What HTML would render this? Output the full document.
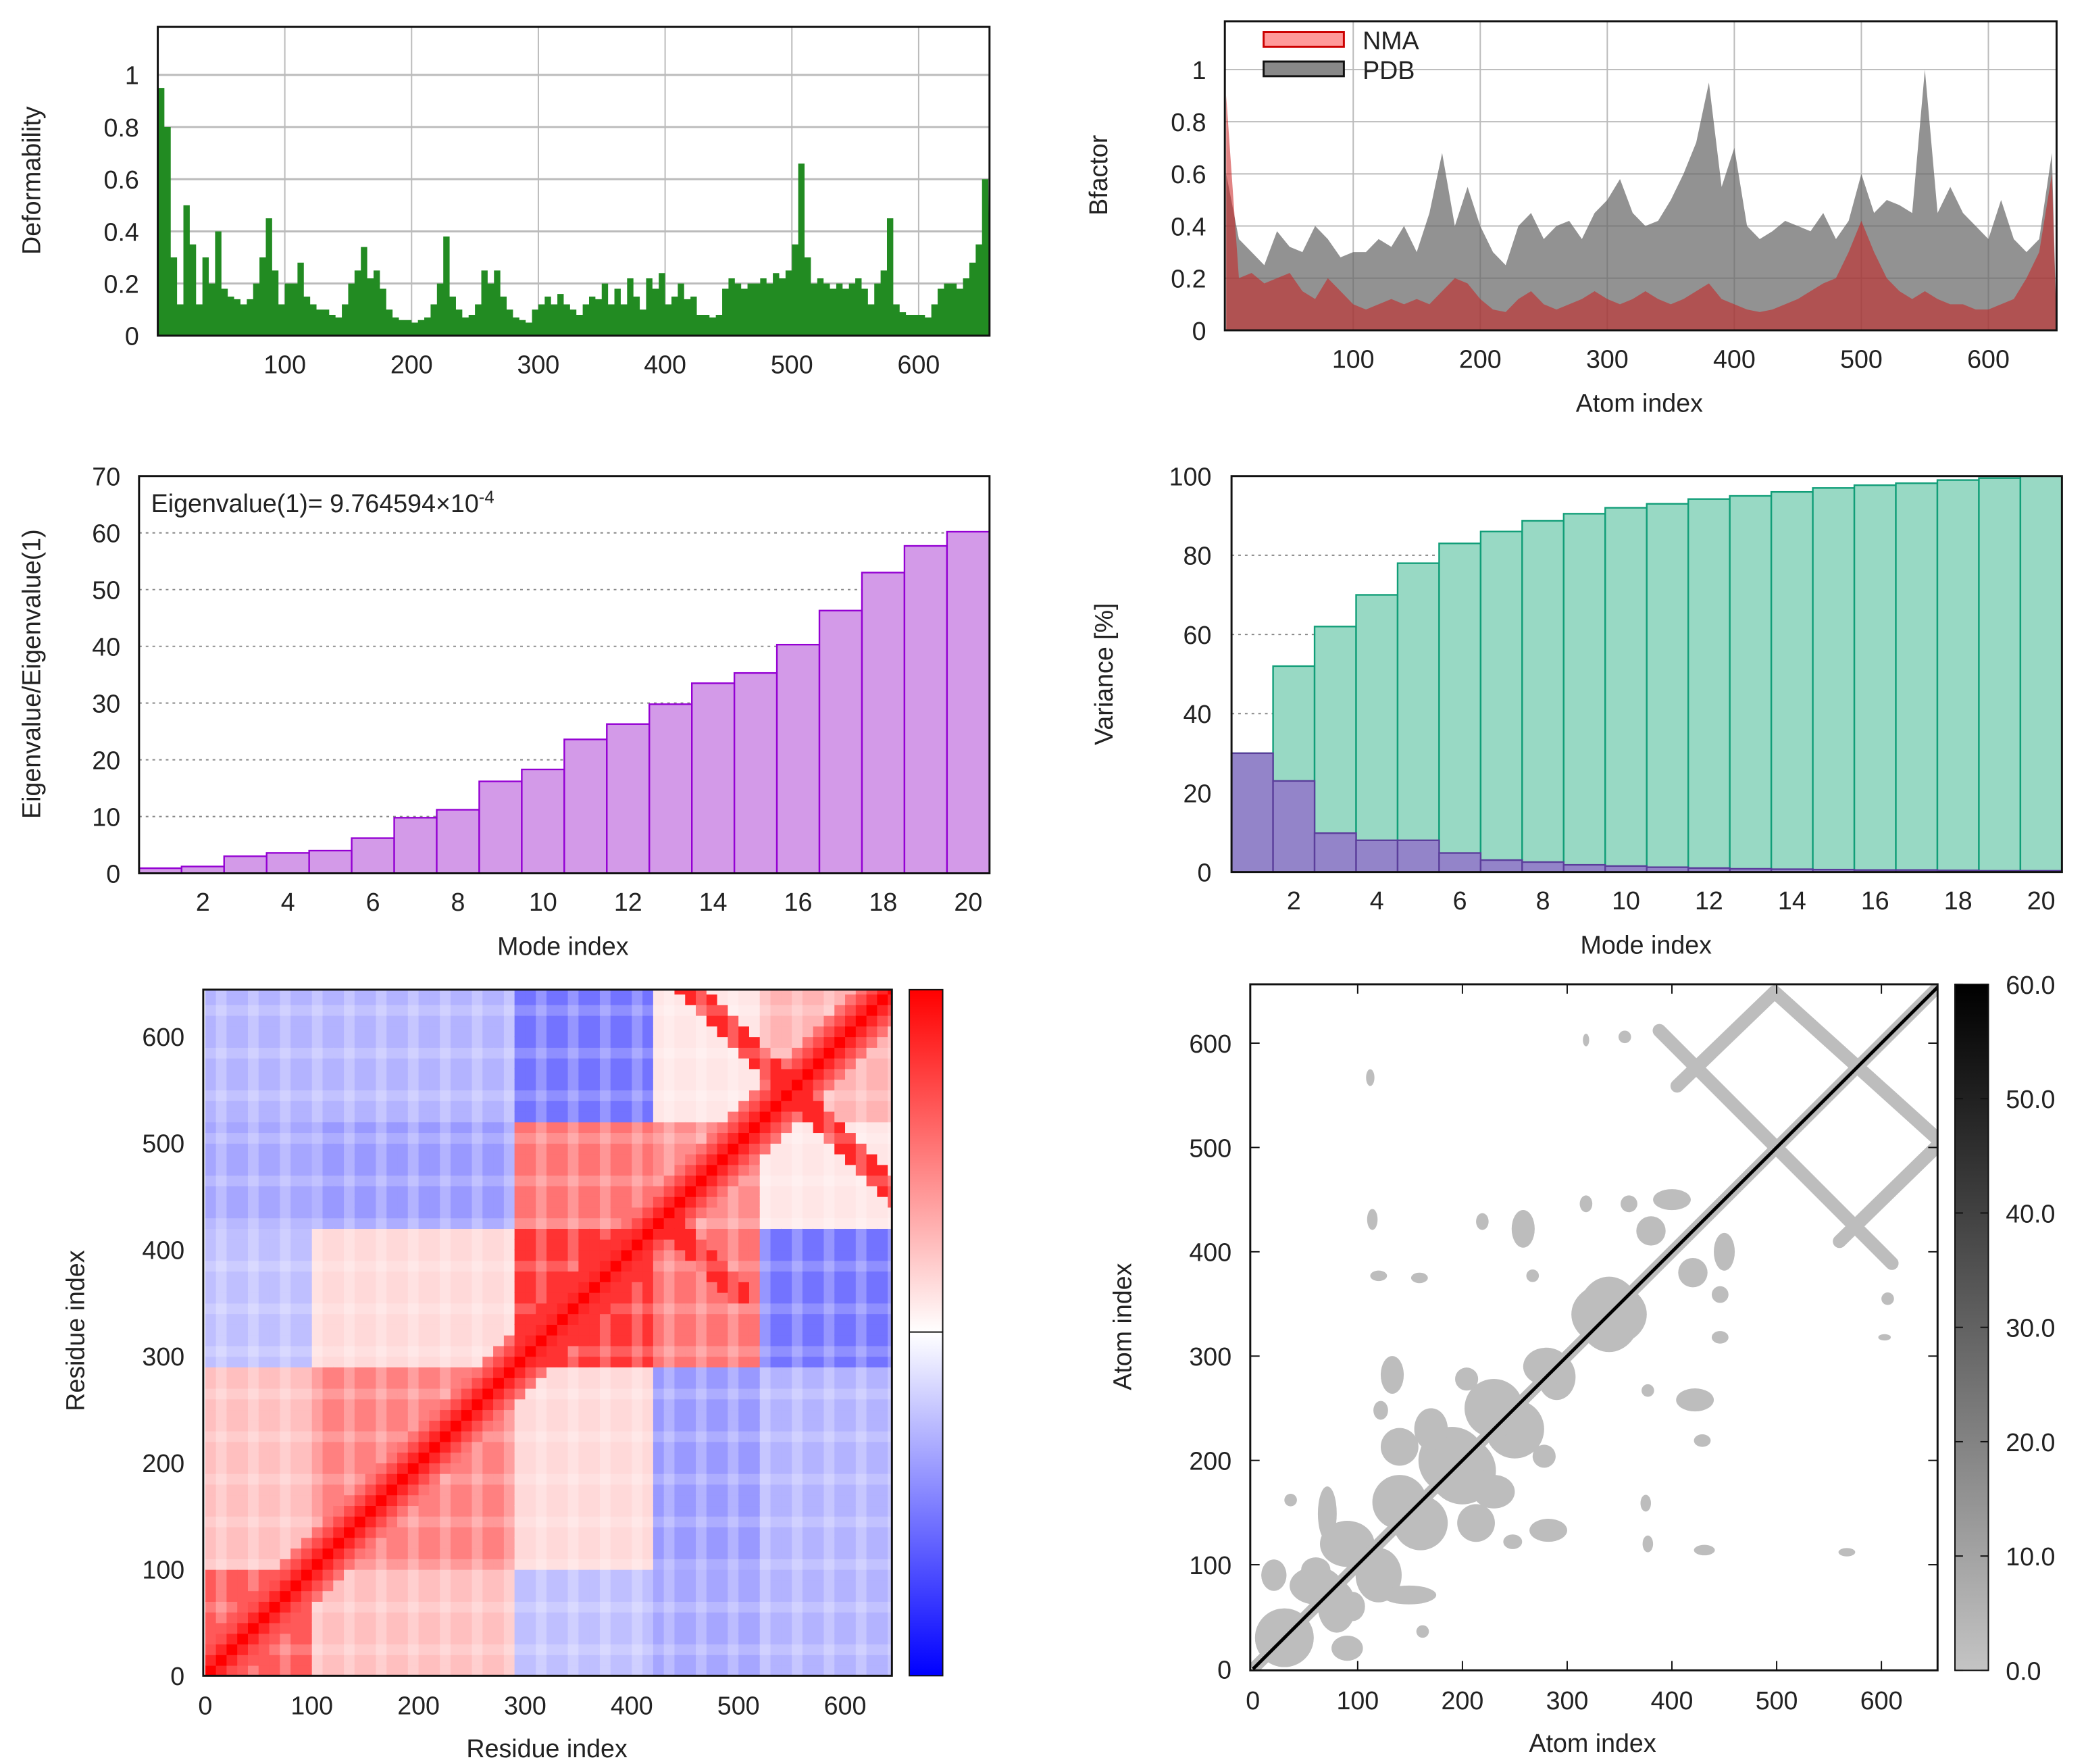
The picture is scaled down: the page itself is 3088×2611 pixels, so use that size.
<!DOCTYPE html>
<html><head><meta charset="utf-8"><style>
html,body{margin:0;padding:0;background:#fff}
svg{display:block}
text{font-family:"Liberation Sans","DejaVu Sans",sans-serif;fill:#222}
</style></head><body>
<svg id="s" width="3088" height="2611" viewBox="0 0 1560 1319" preserveAspectRatio="none" xmlns="http://www.w3.org/2000/svg"></svg>
<script>
// ---------- DATA ----------
const deformStart = 0, deformStep = 5;
const deformValues = [0.95,0.8,0.3,0.12,0.5,0.35,0.12,0.3,0.2,0.4,0.18,0.15,0.14,0.12,0.14,0.2,0.3,0.45,0.25,0.12,
0.2,0.2,0.28,0.15,0.12,0.1,0.1,0.08,0.07,0.12,0.2,0.25,0.34,0.22,0.25,0.18,0.1,0.07,0.06,0.06,
0.05,0.06,0.07,0.12,0.2,0.38,0.15,0.1,0.07,0.08,0.12,0.25,0.2,0.25,0.15,0.1,0.07,0.06,0.05,0.1,
0.12,0.15,0.12,0.16,0.12,0.1,0.08,0.12,0.15,0.14,0.2,0.12,0.18,0.12,0.22,0.15,0.1,0.22,0.18,0.24,
0.12,0.15,0.2,0.14,0.15,0.08,0.08,0.07,0.08,0.18,0.22,0.2,0.18,0.2,0.2,0.22,0.2,0.24,0.22,0.25,
0.35,0.66,0.3,0.2,0.22,0.2,0.18,0.2,0.18,0.2,0.22,0.18,0.12,0.2,0.25,0.45,0.12,0.09,0.08,0.08,
0.08,0.07,0.12,0.18,0.2,0.2,0.18,0.22,0.28,0.35,0.6];
const bfStep = 10;
const bfPDB = [0.6,0.35,0.3,0.25,0.38,0.32,0.3,0.4,0.35,0.28,0.3,0.3,0.35,0.32,0.4,0.3,0.45,0.68,0.4,0.55,0.4,0.3,0.25,0.4,0.45,0.35,0.4,0.42,0.35,0.45,0.5,0.58,0.45,0.4,0.42,0.5,0.6,0.72,0.95,0.55,0.7,0.4,0.35,0.38,0.42,0.4,0.38,0.45,0.35,0.42,0.6,0.45,0.5,0.48,0.45,1.0,0.45,0.55,0.45,0.4,0.35,0.5,0.35,0.3,0.35,0.68];
const bfNMA = [0.9,0.2,0.22,0.18,0.2,0.22,0.15,0.12,0.2,0.15,0.1,0.08,0.1,0.12,0.1,0.12,0.1,0.15,0.2,0.18,0.12,0.08,0.07,0.12,0.15,0.1,0.08,0.1,0.12,0.15,0.12,0.1,0.12,0.15,0.12,0.1,0.12,0.15,0.18,0.12,0.1,0.08,0.07,0.08,0.1,0.12,0.15,0.18,0.2,0.3,0.42,0.3,0.2,0.15,0.12,0.15,0.12,0.1,0.1,0.08,0.08,0.1,0.12,0.2,0.3,0.6];
const modes = [1,2,3,4,5,6,7,8,9,10,11,12,13,14,15,16,17,18,19,20];
const eigRatio = [0.9,1.2,3,3.6,4,6.2,9.8,11.2,16.2,18.3,23.6,26.3,29.8,33.5,35.3,40.3,46.3,53,57.7,60.2];
const varCum = [30,52,62,70,78,83,86,88.7,90.5,92,93,94.2,95,96,97,97.7,98.2,99,99.5,100];
const varInd = [30,23,9.8,8,8,4.8,3,2.5,1.8,1.5,1.2,1,0.8,0.7,0.6,0.5,0.5,0.4,0.3,0.3];
const domainBounds = [0,100,290,420,520,650];
const domainCorr = [[0.65,0.25,-0.25,-0.35,-0.3],[0.25,0.5,0.15,-0.4,-0.3],[-0.25,0.15,0.8,0.55,-0.55],[-0.35,-0.4,0.55,0.45,0.1],[-0.3,-0.3,-0.55,0.1,0.3]];
const crossCenters = [[550,550,110],[470,390,40]];
const contactBlobs = [[30,30,28,28],[80,60,18,25],[60,95,14,12],[90,20,15,12],[20,90,12,14],[120,90,22,26],[160,140,26,26],[200,190,32,32],[250,230,28,28],[290,280,18,22],[340,340,36,30],[230,170,20,16],[282,133,18,11],[248,122,9,7],[149,71,26,9],[162,36,6,6],[278,204,11,11],[213,140,18,18],[446,359,8,8],[446,318,8,6],[606,355,6,6],[603,318,6,3],[422,258,18,11],[377,267,6,6],[429,219,8,6],[375,159,5,8],[377,120,5,8],[431,114,10,5],[567,112,8,4],[420,380,14,14],[450,400,10,18]];
const contactBands = [[388,612,610,389],[405,559,498,649],[498,649,657,505],[657,505,560,410]];

// ---------- helpers ----------
const S=document.getElementById('s');const NS='http://www.w3.org/2000/svg';
function mk(tag,attrs,parent){const e=document.createElementNS(NS,tag);for(const k in attrs)e.setAttribute(k,attrs[k]);(parent||S).appendChild(e);return e;}
function txt(x,y,s,anchor,size,parent,rot){const t=mk('text',{x:x,y:y,'text-anchor':anchor||'middle','font-size':size||19},parent);if(rot)t.setAttribute('transform','rotate(-90 '+x+' '+y+')');t.textContent=s;return t;}
function lin(d0,d1,r0,r1){return v=>r0+(v-d0)*(r1-r0)/(d1-d0);}

// ===== Panel 1: Deformability =====
(function(){
const g=mk('g',{});
const L=118,R=740,T=20,B=251;const x=lin(0,100,118.2,213),y=lin(0,1,251,56);
[100,200,300,400,500,600].forEach(v=>mk('line',{x1:x(v),x2:x(v),y1:T,y2:B,stroke:'#bbb','stroke-width':1},g));
[0.2,0.4,0.6,0.8,1].forEach(v=>mk('line',{x1:L,x2:R,y1:y(v),y2:y(v),stroke:'#bbb','stroke-width':1.5},g));
let d='M'+x(0)+','+B;deformValues.forEach((v,i)=>{const a=x(deformStart+i*deformStep),b=Math.min(R,x(deformStart+(i+1)*deformStep));d+=' L'+a+','+y(v)+' L'+b+','+y(v);});d+=' L'+R+','+B+'Z';
const p=mk('path',{d:d,fill:'#228b22'},g);
mk('rect',{x:L,y:T,width:R-L,height:B-T,fill:'none',stroke:'#111','stroke-width':1.5},g);
[[0,'0'],[0.2,'0.2'],[0.4,'0.4'],[0.6,'0.6'],[0.8,'0.8'],[1,'1']].forEach(([v,s])=>txt(104,y(v)+7,s,'end',19,g));
[100,200,300,400,500,600].forEach(v=>txt(x(v),279,String(v),'middle',19,g));
const t=txt(30,135,'Deformability','middle',19,g,true);
})();

// ===== Panel 2: Bfactor =====
(function(){
const g=mk('g',{});
const L=916,R=1538,T=16,B=247;const x=lin(0,100,917,1012),y=lin(0,1,247,52);
[100,200,300,400,500,600].forEach(v=>mk('line',{x1:x(v),x2:x(v),y1:T,y2:B,stroke:'#bbb','stroke-width':1},g));
[0.2,0.4,0.6,0.8,1].forEach(v=>mk('line',{x1:L,x2:R,y1:y(v),y2:y(v),stroke:'#bbb','stroke-width':1},g));
function area(arr,fill,name){let d='M'+x(0)+','+B;arr.forEach((v,i)=>{d+=' L'+Math.min(R,x(i*bfStep))+','+y(v);});d+=' L'+R+','+B+'Z';const p=mk('path',{d:d,fill:fill},g);}
area(bfPDB,'rgba(100,100,100,0.7)','pdb-area');
area(bfNMA,'rgba(200,30,30,0.55)','nma-area');
mk('rect',{x:L,y:T,width:R-L,height:B-T,fill:'none',stroke:'#111','stroke-width':1.5},g);
[[0,'0'],[0.2,'0.2'],[0.4,'0.4'],[0.6,'0.6'],[0.8,'0.8'],[1,'1']].forEach(([v,s])=>txt(902,y(v)+7,s,'end',19,g));
[100,200,300,400,500,600].forEach(v=>txt(x(v),275,String(v),'middle',19,g));
txt(1226,308,'Atom index','middle',19,g);
txt(828,131,'Bfactor','middle',19,g,true);
const l1=mk('rect',{x:945,y:24,width:60,height:11,fill:'#ff9a9a',stroke:'#c00','stroke-width':1.5},g);
txt(1019,37,'NMA','start',19,g);
const l2=mk('rect',{x:945,y:46,width:60,height:11,fill:'#888',stroke:'#111','stroke-width':1.5},g);
txt(1019,59,'PDB','start',19,g);
})();

// ===== Panel 3: Eigenvalue ratio =====
(function(){
const g=mk('g',{});
const L=104,R=740,T=356,B=653;const y=lin(0,70,653,356);const bw=(R-L)/20;const x=m=>L+(m-1)*bw;
[10,20,30,40,50,60].forEach(v=>mk('line',{x1:L,x2:R,y1:y(v),y2:y(v),stroke:'#888','stroke-width':1,'stroke-dasharray':'2,3'},g));
modes.forEach((m,i)=>{const r=mk('rect',{x:x(m),y:y(eigRatio[i]),width:bw,height:B-y(eigRatio[i]),fill:'#d39ae8',stroke:'#9400d3','stroke-width':1.2},g);});
mk('rect',{x:L,y:T,width:R-L,height:B-T,fill:'none',stroke:'#111','stroke-width':1.5},g);
[0,10,20,30,40,50,60,70].forEach(v=>txt(90,y(v)+7,String(v),'end',19,g));
[2,4,6,8,10,12,14,16,18,20].forEach(m=>txt(x(m)+bw/2,681,String(m),'middle',19,g));
txt(421,714,'Mode index','middle',19,g);
txt(30,504,'Eigenvalue/Eigenvalue(1)','middle',19,g,true);
const t=mk('text',{x:113,y:383,'font-size':19,'text-anchor':'start'},g);t.innerHTML='Eigenvalue(1)= 9.764594×10<tspan dy="-7" font-size="13">-4</tspan>';
})();

// ===== Panel 4: Variance =====
(function(){
const g=mk('g',{});
const L=921,R=1542,T=356,B=652;const y=lin(0,100,652,356);const bw=(R-L)/20;const x=m=>L+(m-1)*bw;
[20,40,60,80].forEach(v=>mk('line',{x1:L,x2:R,y1:y(v),y2:y(v),stroke:'#888','stroke-width':1,'stroke-dasharray':'2,3'},g));
modes.forEach((m,i)=>{const r=mk('rect',{x:x(m),y:y(varCum[i]),width:bw,height:B-y(varCum[i]),fill:'#98d9c4',stroke:'#119e78','stroke-width':1.2},g);});
modes.forEach((m,i)=>{const r=mk('rect',{x:x(m),y:y(varInd[i]),width:bw,height:B-y(varInd[i]),fill:'#9384c9',stroke:'#5b3e9b','stroke-width':1.2},g);});
mk('rect',{x:L,y:T,width:R-L,height:B-T,fill:'none',stroke:'#111','stroke-width':1.5},g);
[0,20,40,60,80,100].forEach(v=>txt(906,y(v)+7,String(v),'end',19,g));
[2,4,6,8,10,12,14,16,18,20].forEach(m=>txt(x(m)+bw/2,680,String(m),'middle',19,g));
txt(1231,713,'Mode index','middle',19,g);
txt(832,504,'Variance [%]','middle',19,g,true);
})();

// ===== Panel 5: Correlation heatmap =====
(function(){
const g=mk('g',{});
const L=152,R=667,T=740,B=1253;const x=lin(0,600,153.5,632),y=lin(0,600,1253,775);
const bin=10,n=65;
function dom(r){for(let k=0;k<domainBounds.length-1;k++)if(r<domainBounds[k+1])return k;return domainBounds.length-2;}
function col(v){v=Math.max(-1,Math.min(1,v));if(v>=0){const c=Math.round(255*(1-v));return 'rgb(255,'+c+','+c+')';}const c=Math.round(255*(1+v));return 'rgb('+c+','+c+',255)';}
const clip=mk('clipPath',{id:'hc'},g);mk('rect',{x:L,y:T,width:R-L,height:B-T},clip);
const cg=mk('g',{'clip-path':'url(#hc)'},g);
for(let i=0;i<n;i++)for(let j=0;j<n;j++){const ri=i*bin+5,rj=j*bin+5;let v=domainCorr[dom(ri)][dom(rj)];const dd=Math.abs(i-j);if(dd<=3)v=Math.max(v,1-dd*0.15);
crossCenters.forEach(c=>{if(Math.abs(ri-c[0])<=c[2]&&Math.abs(rj-c[1])<=c[2]&&Math.abs((ri-c[0])+(rj-c[1]))<=12)v=Math.max(v,0.85);});
if((i%3)===1&&dd>3)v*=0.75;
if((j%4)===2&&dd>3)v*=0.8;
mk('rect',{x:x(i*bin),y:y((j+1)*bin),width:x(bin)-x(0)+0.5,height:y(0)-y(bin)+0.5,fill:col(v)},cg);}
mk('rect',{x:L,y:T,width:R-L,height:B-T,fill:'none',stroke:'#111','stroke-width':1.5},g);
[0,100,200,300,400,500,600].forEach(v=>{txt(138,y(v)+7,String(v),'end',19,g);txt(x(v),1282,String(v),'middle',19,g);});
txt(409,1314,'Residue index','middle',19,g);
txt(63,995,'Residue index','middle',19,g,true);
const defs=mk('defs',{},g);const lg=mk('linearGradient',{id:'rb',x1:0,y1:0,x2:0,y2:1},defs);
mk('stop',{offset:'0',  'stop-color':'#ff0000'},lg);mk('stop',{offset:'0.5','stop-color':'#ffffff'},lg);mk('stop',{offset:'1','stop-color':'#0000ff'},lg);
const cb=mk('rect',{x:680,y:740,width:25,height:513,fill:'url(#rb)',stroke:'#111','stroke-width':1},g);
mk('line',{x1:680,x2:705,y1:996,y2:996,stroke:'#111','stroke-width':1},g);
})();

// ===== Panel 6: Contact map =====
(function(){
const g=mk('g',{});
const L=935,R=1449,T=736,B=1249;const x=lin(0,600,937,1407),y=lin(0,600,1248,780);const k=(x(100)-x(0))/100;
const clip=mk('clipPath',{id:'cc'},g);mk('rect',{x:L,y:T,width:R-L,height:B-T},clip);
const cg=mk('g',{'clip-path':'url(#cc)'},g);
contactBlobs.forEach(b=>{[[b[0],b[1],b[2],b[3]],[b[1],b[0],b[3],b[2]]].forEach(c=>{const e=mk('ellipse',{cx:x(c[0]),cy:y(c[1]),rx:c[2]*k,ry:c[3]*k,fill:'#bdbdbd'},cg);});});
contactBands.forEach(s=>mk('line',{x1:x(s[0]),y1:y(s[1]),x2:x(s[2]),y2:y(s[3]),stroke:'#bdbdbd','stroke-width':10,'stroke-linecap':'round'},cg));
mk('line',{x1:x(0),y1:y(0),x2:x(660),y2:y(660),stroke:'#bdbdbd','stroke-width':9},cg);
mk('line',{x1:x(0),y1:y(0),x2:x(660),y2:y(660),stroke:'#000','stroke-width':2.5},cg);
mk('rect',{x:L,y:T,width:R-L,height:B-T,fill:'none',stroke:'#111','stroke-width':1.5},g);
[100,200,300,400,500,600].forEach(v=>{mk('line',{x1:x(v),x2:x(v),y1:B,y2:B-7,stroke:'#111'},g);mk('line',{x1:x(v),x2:x(v),y1:T,y2:T+7,stroke:'#111'},g);mk('line',{x1:L,x2:L+7,y1:y(v),y2:y(v),stroke:'#111'},g);mk('line',{x1:R,x2:R-7,y1:y(v),y2:y(v),stroke:'#111'},g);});
[0,100,200,300,400,500,600].forEach(v=>{txt(921,y(v)+7,String(v),'end',19,g);txt(x(v),1278,String(v),'middle',19,g);});
txt(1191,1310,'Atom index','middle',19,g);
txt(846,992,'Atom index','middle',19,g,true);
const defs=mk('defs',{},g);const lg=mk('linearGradient',{id:'gb',x1:0,y1:0,x2:0,y2:1},defs);
mk('stop',{offset:'0','stop-color':'#000'},lg);mk('stop',{offset:'1','stop-color':'#c4c4c4'},lg);
const cb=mk('rect',{x:1462,y:736,width:25,height:513,fill:'url(#gb)',stroke:'#111','stroke-width':1},g);
['0.0','10.0','20.0','30.0','40.0','50.0','60.0'].forEach((s,i)=>{const yy=1249-i*513/6;mk('line',{x1:1462,x2:1468,y1:yy,y2:yy,stroke:'#111'},g);mk('line',{x1:1487,x2:1481,y1:yy,y2:yy,stroke:'#111'},g);txt(1500,yy+7,s,'start',19,g);});
})();
</script>
</body></html>
